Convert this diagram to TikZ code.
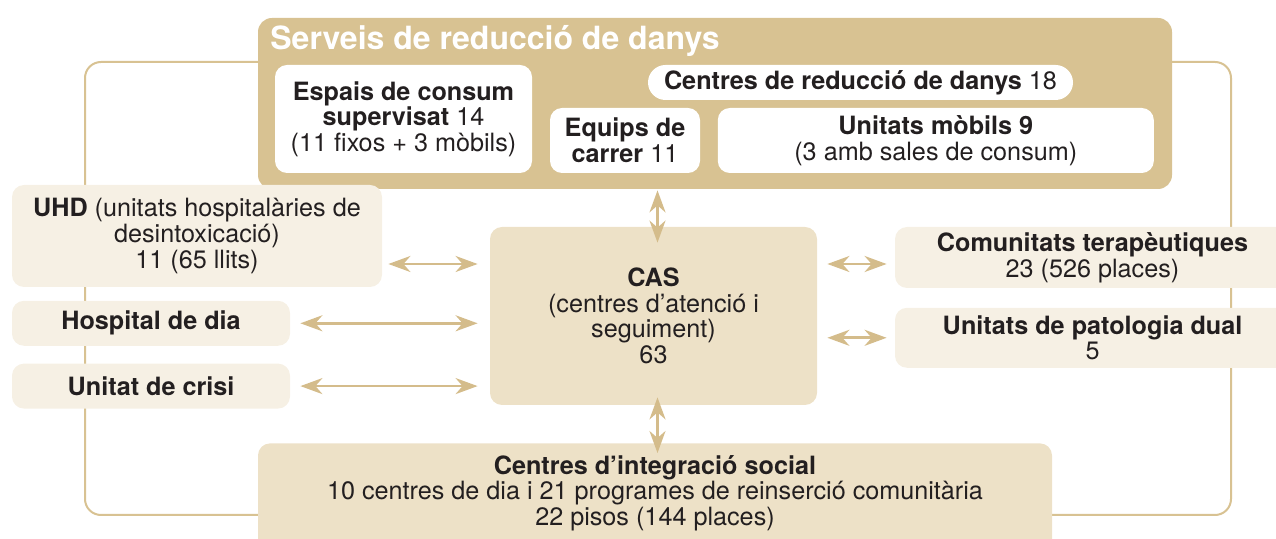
\documentclass[tikz,border=0pt]{standalone}
\usepackage{fontspec}
\setmainfont{TeX Gyre Heros}
\usepackage{tikz}
\usetikzlibrary{positioning, arrows.meta}
\definecolor{sdtan}{HTML}{D8C292}
\definecolor{sdlight}{HTML}{F6F0E4}
\definecolor{sdmid}{HTML}{EDE1C7}
\definecolor{sdarrow}{HTML}{D4BC8B}
\definecolor{sdtext}{HTML}{231F20}

\begin{document}
\begin{tikzpicture}[
  x=0.5pt, y=-0.5pt,
  every node/.style={font=\fontsize{12.6}{12.8}\selectfont, text=sdtext, align=center, inner sep=0pt},
  group/.style={rectangle, rounded corners=7pt, fill=sdtan},
  whitebox/.style={rectangle, rounded corners=6pt, fill=white},
  lightbox/.style={rectangle, rounded corners=6pt, fill=sdlight},
  midbox/.style={rectangle, rounded corners=6pt, fill=sdmid},
  loopline/.style={draw=sdtan, line width=1pt, rounded corners=8pt},
  arr/.style={{Stealth[length=11pt, width=8pt, inset=3.5pt]}-{Stealth[length=11pt, width=8pt, inset=3.5pt]},
    line width=1.3pt, color=sdarrow, shorten <=5pt, shorten >=5pt},
]
\useasboundingbox (0,0) rectangle (1276,539);

% Outer loop
\draw[loopline] (85,62) rectangle (1231,515);

% Harm reduction services
\node[group, minimum width=457pt, minimum height=85.5pt] (srd) at (715,103.5) {};
\node[font=\fontsize{16}{16}\selectfont\bfseries, text=white, anchor=base west] (srdt) at (270,50)
  {Serveis de reducció de danys};
\node[whitebox, minimum width=128.5pt, minimum height=54pt] (ecs) at (403.5,119)
  {\textbf{Espais de consum}\\\textbf{supervisat} 14\\(11 fixos + 3 mòbils)};
\node[whitebox, rounded corners=8.75pt, minimum width=212.5pt, minimum height=17.5pt] (crd) at (860.5,82.5)
  {\textbf{Centres de reducció de danys} 18};
\node[whitebox, minimum width=75pt, minimum height=32.5pt] (eqc) at (625,140.5)
  {\textbf{Equips de}\\\textbf{carrer} 11};
\node[whitebox, minimum width=218pt, minimum height=32.5pt, right=8.5pt of eqc] (umb)
  {\textbf{Unitats mòbils 9}\\(3 amb sales de consum)};

% Left column
\node[lightbox, minimum width=185pt, minimum height=51pt] (uhd) at (197,236)
  {\textbf{UHD} (unitats hospitalàries de\\desintoxicació)\\11 (65 llits)};
\node[lightbox, minimum width=139pt, minimum height=22.5pt, below=6.5pt of uhd.south west, anchor=north west] (hdd)
  {\textbf{Hospital de dia}};
\node[lightbox, minimum width=139pt, minimum height=22.5pt, below=8.5pt of hdd] (udc)
  {\textbf{Unitat de crisi}};

% CAS
\node[midbox, minimum width=163.5pt, minimum height=89pt] (cas) at (653.5,316)
  {\textbf{CAS}\\(centres d’atenció i\\seguiment)\\63};

% Right column
\node[lightbox, minimum width=197.5pt, minimum height=30.5pt] (ct) at (1092.5,257.5)
  {\textbf{Comunitats terapèutiques}\\23 (526 places)};
\node[lightbox, minimum width=197.5pt, minimum height=30pt, below=9.5pt of ct] (upd)
  {\textbf{Unitats de patologia dual}\\5};

% Social integration
\node[midbox, minimum width=397pt, minimum height=60pt, anchor=north] (cis) at (655,443) {};
\node (cist) at (655,493)
  {\textbf{Centres d’integració social}\\10 centres de dia i 21 programes de reinserció comunitària\\22 pisos (144 places)};

% Arrows
\draw[arr, shorten <=3pt, shorten >=6pt] ([yshift=-14pt]uhd.east) coordinate (uhdr) -- (cas.west |- uhdr);
\draw[arr, shorten >=6pt] (hdd) -- (cas.west |- hdd);
\draw[arr, shorten >=6pt] (udc) -- (cas.west |- udc);
\draw[arr, shorten >=4pt] (cas.east |- uhdr) -- (ct.west |- uhdr);
\draw[arr, shorten >=4pt] (cas.east |- upd) -- (upd);
\draw[arr, shorten <=0.5pt, shorten >=-8pt] ([xshift=2pt]cas.north |- srd.south) -- ([xshift=2pt]cas.north);
\draw[arr, shorten <=-4pt, shorten >=-5pt] ([xshift=2pt]cas.south) -- ([xshift=2pt]cas.south |- cis.north);
\end{tikzpicture}
\end{document}
